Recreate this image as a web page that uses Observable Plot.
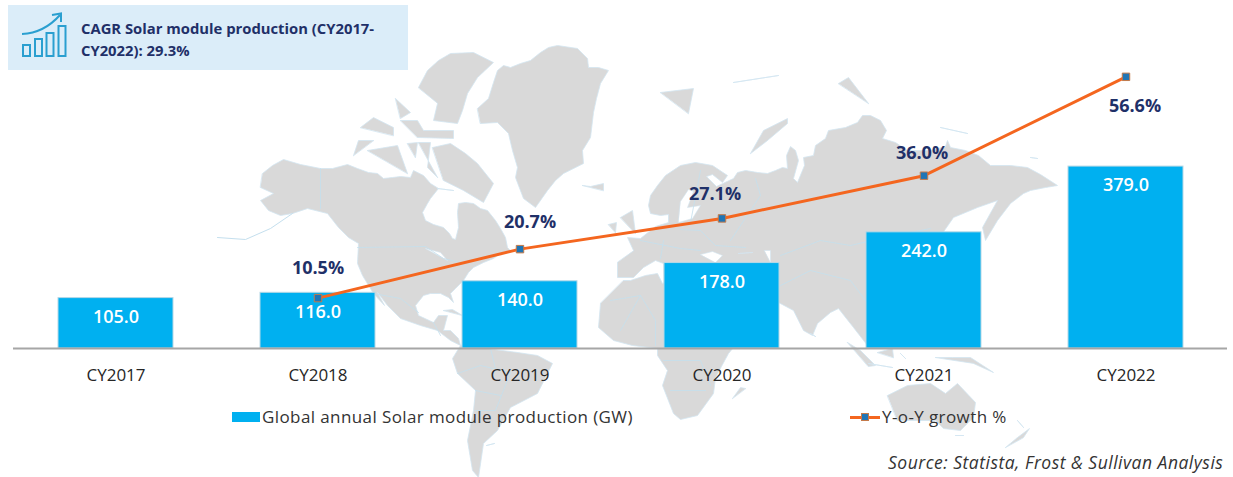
<!DOCTYPE html>
<html><head><meta charset="utf-8">
<script src="https://cdn.jsdelivr.net/npm/d3@7"></script>
<script src="https://cdn.jsdelivr.net/npm/@observablehq/plot@0.6"></script>
<style>
html,body{margin:0;padding:0;background:#fff;overflow:hidden}
#stage{position:relative;width:1233px;height:477px;font-family:"Open Sans",sans-serif}
#stage>div{position:absolute}
#map,#chart{left:0;top:0}
#map svg,#chart svg{display:block;background:transparent}
.leg{font-size:17px;color:#333;line-height:20px;white-space:nowrap;letter-spacing:.4px}
</style></head><body>
<div id="stage">
 <div id="map"></div>
 <div id="chart"></div>
 <div style="left:8px;top:5px;width:400px;height:65px;background:#dbedf9"></div>
 <div style="left:8px;top:5px;width:80px;height:65px">
  <svg width="80" height="60" style="position:absolute;left:0;top:0" fill="none" stroke="#2a9fd0" stroke-width="2">
   <rect x="15" y="40" width="7" height="11"/><rect x="27" y="34" width="7" height="17"/><rect x="38.5" y="28" width="7" height="23"/><rect x="50.5" y="21" width="7" height="30"/>
   <path d="M14 29Q36 28 52 10"/><path d="M44 10L53 8.500L53 17"/>
  </svg></div>
 <div id="callout" style="left:81px;top:17px;width:320px;font-weight:700;font-size:14.8px;line-height:22px;color:#1f3068">CAGR Solar module production (CY2017-<br>CY2022): 29.3%</div>
 <div style="left:232px;top:412px;width:28px;height:10px;background:#00b0f0"></div>
 <div class="leg" style="left:262px;top:407px">Global annual Solar module production (GW)</div>
 <div style="left:850px;top:415.500px;width:30px;height:3px;background:#f4661f"></div>
 <div style="left:861px;top:413px;width:6px;height:6px;background:#2075b5;border:1px solid #c47a4a"></div>
 <div class="leg" style="left:882px;top:407px">Y-o-Y growth %</div>
 <div class="leg" style="left:888px;top:452px;font-style:italic;font-size:17.5px;letter-spacing:.5px">Source: Statista, Frost &amp; Sullivan Analysis</div>
</div>
<script>
// ---- chart values
const years = ["CY2017","CY2018","CY2019","CY2020","CY2021","CY2022"];
const production = [105.0,116.0,140.0,178.0,242.0,379.0];
const growthYears = ["CY2018","CY2019","CY2020","CY2021","CY2022"];
const growth = [10.5,20.7,27.1,36.0,56.6];
const growthScale = 10; // secondary axis ratio
const growthLabelOffsets = [[0,-30],[10,-27],[-7,-24],[-2,-22],[9,29]];

// ---- background world map outline (map sheet units)
const northAmerica = [[262,173],[272,165],[283,159],[300,164],[320,168],[332,168],[347,164],[357,168],[368,172],[377,173],[383,178],[392,177],[400,176],[410,177],[413,170],[423,175],[430,183],[438,188],[430,198],[427,203],[422,212],[425,220],[433,224],[443,227],[449,233],[452,238],[455,239],[458,227],[457,212],[458,203],[465,202],[473,203],[480,208],[487,210],[495,220],[500,228],[505,237],[507,247],[510,250],[500,253],[493,258],[483,262],[473,267],[468,272],[463,280],[455,288],[450,293],[453,302],[448,297],[440,293],[430,293],[423,295],[415,305],[418,315],[433,322],[438,315],[447,315],[443,330],[450,330],[458,338],[460,345],[450,340],[437,330],[420,325],[400,318],[387,305],[377,292],[384,305],[373,293],[362,275],[357,263],[358,243],[348,237],[338,227],[327,213],[307,208],[292,213],[280,215],[268,210],[260,200],[273,193],[260,187],[273,180]];
const aleutians = [[292,213],[270,228],[245,239],[217,237]];
const greenland = [[477,108],[488,98],[493,82],[497,70],[503,65],[510,67],[520,63],[530,60],[540,52],[548,47],[557,45],[577,48],[587,58],[588,67],[598,67],[608,70],[600,83],[596,98],[593,112],[590,137],[582,150],[583,163],[563,173],[555,180],[547,190],[535,207],[523,198],[515,177],[517,167],[512,150],[508,133],[497,122],[480,123],[478,115]];
const iceland = [[582,185],[590,186],[603,183],[603,190],[590,195]];
const arctic = [
 [[418,87],[427,70],[438,60],[450,53],[473,52],[493,62],[477,77],[467,93],[462,110],[457,123],[433,120],[437,103],[423,98]],
 [[432,147],[450,143],[465,153],[477,163],[493,183],[483,202],[463,190],[443,180],[433,163]],
 [[367,150],[397,145],[407,173],[383,173]],
 [[353,155],[358,140],[373,140],[367,153]],
 [[360,127],[373,117],[393,127],[393,135],[373,137]],
 [[395,98],[410,112],[400,118],[387,107]],
 [[400,120],[417,120],[423,130],[453,130],[453,138],[417,137],[402,133]],
 [[407,143],[417,142],[415,157],[405,155]],
 [[418,142],[430,142],[427,167],[437,177],[417,173]],
 [[437,188],[453,190],[443,197]]
];
const eurasia = [[617,262],[617,277],[633,277],[643,267],[655,260],[663,263],[664,300],[778,302],[793,310],[803,330],[812,335],[817,323],[830,312],[838,308],[853,327],[867,345],[880,340],[900,300],[937,240],[953,217],[977,207],[997,200],[982,227],[985,240],[997,220],[1010,203],[1023,193],[1030,190],[1045,187],[1057,185],[1040,174],[1027,167],[1010,165],[990,165],[978,155],[965,150],[950,147],[947,140],[945,146],[930,150],[907,150],[895,142],[882,138],[886,130],[880,120],[870,115],[862,115],[857,122],[845,127],[828,130],[825,138],[815,145],[813,155],[803,157],[804,165],[797,182],[793,178],[798,160],[795,150],[790,146],[786,155],[787,168],[782,167],[775,170],[767,173],[757,172],[745,170],[737,172],[733,178],[716,186],[706,176],[712,174],[722,182],[727,175],[712,165],[695,162],[680,165],[665,175],[657,185],[650,195],[648,205],[650,213],[660,215],[668,214],[668,222],[655,226],[640,238],[627,237],[633,250],[640,262]];
const africa = [[623,280],[630,280],[645,275],[657,273],[662,283],[700,265],[760,330],[733,347],[728,353],[715,377],[713,393],[697,415],[680,419],[673,413],[662,385],[667,370],[657,355],[657,348],[632,345],[613,340],[598,327],[600,303],[612,288]];
const southAmerica = [[460,345],[452,358],[457,373],[475,390],[473,410],[467,440],[472,470],[478,477],[483,443],[497,430],[510,407],[537,393],[552,363],[537,355],[517,352],[493,348]];
const australia = [[887,395],[907,385],[930,383],[945,393],[957,383],[975,402],[973,417],[960,430],[943,428],[935,420],[917,420],[897,420],[888,413]];
const islands = [
 [[732,398],[740,387],[745,388],[738,400]],
 [[810,333],[815,336],[813,340]],
 [[847,342],[860,350],[875,365],[868,366],[852,352]],
 [[877,352],[892,348],[893,357],[883,360]],
 [[868,363],[892,367],[880,368]],
 [[900,353],[905,358],[902,362]],
 [[935,357],[952,357],[970,357],[993,372],[973,363],[958,367]],
 [[955,435],[963,435],[960,442]],
 [[1005,447],[1017,437],[1029,428],[1023,437],[1012,450]],
 [[1017,420],[1023,427],[1019,433]],
 [[620,217],[632,210],[635,233],[623,237]],
 [[608,224],[616,222],[615,232],[608,233]],
 [[660,92],[693,88],[688,113],[672,120]],
 [[733,82],[778,75],[757,88]],
 [[838,83],[848,77],[868,103],[857,110]],
 [[940,127],[967,133],[947,135]],
 [[750,153],[763,130],[787,118],[787,123],[767,140],[760,163]],
 [[1030,157],[1037,158],[1033,160]],
 [[443,310],[452,309],[462,315],[450,313]],
 [[486,445],[494,443],[490,447]]
];
const inlandSeas = [
 [[680,201],[688,189],[693,191],[687,207],[700,205],[692,218],[678,222],[683,210]],
 [[700,254],[712,251],[722,255],[715,262],[703,262]],
 [[738,253],[752,252],[745,261]],
 [[764,250],[770,250],[770,262],[765,262]],
 [[425,248],[440,252],[447,260],[435,258]]
];
const borders = [
 [[320,168],[320,208]],[[357,247],[425,246],[443,258],[460,262]],
 [[373,293],[400,298],[418,312]],[[433,322],[440,335]],
 [[457,373],[480,365],[510,372],[495,410],[475,410]],[[475,390],[500,395]],[[490,348],[495,368]],
 [[610,300],[640,295],[655,320],[655,345]],[[640,295],[620,330]],[[663,360],[700,360],[710,385]],[[670,390],[705,390]],
 [[680,229],[700,230],[715,245],[745,247]],[[690,222],[700,170]],[[730,240],[760,195],[755,178]],
 [[780,255],[820,240],[850,245],[880,238],[930,228]],[[780,285],[810,270],[850,280],[865,300]],[[640,240],[680,248],[700,250]],[[663,240],[660,258]]
];

// ---- background map plot
const ring = r => ({type:"Polygon", coordinates:[r]});
const land = [northAmerica, greenland, iceland, ...arctic, eurasia, africa, southAmerica, australia, ...islands].map(ring);
document.getElementById("map").append(Plot.plot({
  width:1233, height:477, margin:0,
  projection: d3.geoIdentity(),
  marks:[
    Plot.geo(land,{fill:"#d9d9d9",stroke:"#d3e6f1",strokeWidth:0.8}),
    Plot.geo(inlandSeas.map(ring),{fill:"#fff",stroke:"#d3e6f1",strokeWidth:0.6}),
    Plot.geo({type:"MultiLineString",coordinates:borders},{stroke:"#c4dfee",strokeWidth:0.8}),
    Plot.geo({type:"LineString",coordinates:aleutians},{stroke:"#c4dfee",strokeWidth:1})
  ]
}));

// ---- chart plot
const bars = years.map((year,i)=>({year,value:production[i]}));
const points = growthYears.map((year,i)=>({year,value:growth[i]}));
const scaled = d => d.value*growthScale;
document.getElementById("chart").append(Plot.plot({
  width:1233, height:477, marginTop:0, marginBottom:129, marginLeft:13, marginRight:6,
  style:{background:"transparent",fontFamily:"'Open Sans',sans-serif",overflow:"visible"},
  x:{domain:years,paddingInner:0.432,paddingOuter:0.216,label:null},
  y:{domain:[0,725],axis:null},
  marks:[
    Plot.barY(bars,{x:"year",y:"value",fill:"#00b0f0",stroke:"#b5d8e6",strokeWidth:1}),
    Plot.ruleY([0],{stroke:"#a6a6a6",strokeWidth:2}),
    Plot.axisX({tickSize:0,tickPadding:20,fontSize:17,fill:"#262626",label:null}),
    Plot.text(bars,{x:"year",y:"value",text:d=>d.value.toFixed(1),dy:19,fill:"#fff",fontSize:18,fontWeight:600}),
    Plot.lineY(points,{x:"year",y:scaled,stroke:"#f4661f",strokeWidth:3}),
    Plot.dot(points,{x:"year",y:scaled,symbol:"square",r:4.2,fill:"#2075b5",stroke:"#c47a4a",strokeWidth:1}),
    ...points.map((p,i)=>Plot.text([p],{x:"year",y:scaled,text:d=>d.value.toFixed(1)+"%",dx:growthLabelOffsets[i][0],dy:growthLabelOffsets[i][1],fill:"#1f3068",fontSize:18,fontWeight:700}))
  ]
}));
</script>
</body></html>
